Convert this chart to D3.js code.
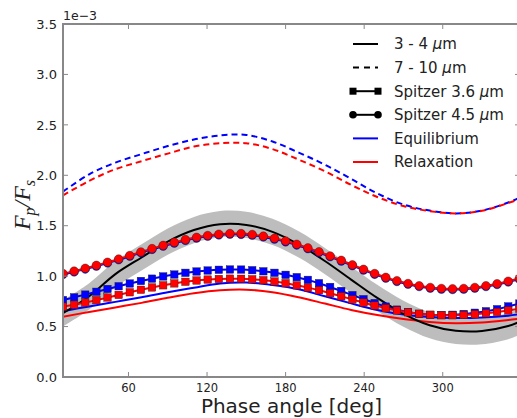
<!DOCTYPE html>
<html>
<head>
<meta charset="utf-8">
<script src="https://cdn.jsdelivr.net/npm/d3@7"></script>
<style>
body { margin: 0; background: #fff; }
text { font-family: "DejaVu Sans", sans-serif; fill: #222; }
</style>
</head>
<body>
<svg id="chart" width="517" height="418"></svg>
<script>
// phase angles (deg) for the model curves
var phase = [10, 30, 50, 70, 90, 110, 130, 150, 170, 190, 210, 230, 250, 270, 290, 310, 330, 350, 360];

// 3 - 4 um observed curve (black) and its uncertainty band, units of 1e-3
var obs34 = [0.632, 0.80, 1.02, 1.185, 1.343, 1.457, 1.515, 1.508, 1.439, 1.314, 1.15, 0.966, 0.784, 0.627, 0.513, 0.458, 0.455, 0.505, 0.555];
var obs34Err = 0.13;

// model curves, 3 - 4 um (solid) and 7 - 10 um (dashed)
var eq34  = [0.652, 0.70, 0.745, 0.79, 0.84, 0.885, 0.928, 0.937, 0.912, 0.87, 0.80, 0.73, 0.665, 0.62, 0.595, 0.585, 0.59, 0.608, 0.625];
var rel34 = [0.598, 0.645, 0.69, 0.735, 0.785, 0.83, 0.86, 0.866, 0.84, 0.79, 0.728, 0.665, 0.615, 0.575, 0.545, 0.532, 0.54, 0.565, 0.58];
var eq710  = [1.837, 2.01, 2.125, 2.21, 2.29, 2.355, 2.395, 2.40, 2.335, 2.225, 2.105, 1.965, 1.82, 1.71, 1.65, 1.622, 1.65, 1.73, 1.785];
var rel710 = [1.80, 1.945, 2.06, 2.14, 2.215, 2.285, 2.318, 2.318, 2.26, 2.155, 2.04, 1.905, 1.785, 1.695, 1.645, 1.622, 1.648, 1.725, 1.77];

// Spitzer band curves, sampled at the marker phases
var spitzerPhase = [10, 18.5, 27, 35.5, 44, 52.5, 61, 69.5, 78, 86.5, 95, 103.5, 112, 120.5, 129, 137.5, 146, 154.5, 163, 171.5, 180,
                    188.5, 197, 205.5, 214, 222.5, 231, 239.5, 248, 256.5, 265, 273.5, 282, 290.5, 299, 307.5, 316, 324.5, 333, 341.5, 350, 358.5];
var eq36  = [0.763, 0.79, 0.817, 0.845, 0.873, 0.9, 0.927, 0.952, 0.975, 0.997, 1.016, 1.033, 1.046, 1.056, 1.063, 1.066, 1.065, 1.059, 1.048, 1.033, 1.013,
             0.99, 0.963, 0.93, 0.893, 0.853, 0.812, 0.772, 0.733, 0.698, 0.668, 0.644, 0.627, 0.617, 0.614, 0.617, 0.625, 0.637, 0.652, 0.672, 0.70, 0.728];
var rel36 = [0.697, 0.716, 0.738, 0.762, 0.788, 0.814, 0.84, 0.865, 0.888, 0.909, 0.928, 0.944, 0.957, 0.966, 0.972, 0.975, 0.974, 0.969, 0.96, 0.947, 0.93,
             0.909, 0.886, 0.86, 0.831, 0.80, 0.769, 0.738, 0.708, 0.682, 0.66, 0.641, 0.627, 0.617, 0.612, 0.612, 0.615, 0.622, 0.632, 0.645, 0.66, 0.677];
var eq45  = [1.017, 1.042, 1.07, 1.099, 1.13, 1.162, 1.197, 1.232, 1.265, 1.297, 1.327, 1.354, 1.377, 1.395, 1.408, 1.415, 1.414, 1.405, 1.389, 1.367, 1.34,
             1.308, 1.272, 1.234, 1.192, 1.149, 1.104, 1.06, 1.018, 0.98, 0.947, 0.919, 0.897, 0.88, 0.87, 0.867, 0.87, 0.88, 0.897, 0.917, 0.942, 0.97];
var rel45 = [1.025, 1.05, 1.078, 1.107, 1.138, 1.17, 1.205, 1.24, 1.273, 1.305, 1.335, 1.362, 1.385, 1.403, 1.416, 1.423, 1.422, 1.413, 1.397, 1.375, 1.348,
             1.316, 1.28, 1.242, 1.2, 1.157, 1.112, 1.068, 1.026, 0.988, 0.955, 0.927, 0.905, 0.888, 0.878, 0.875, 0.878, 0.888, 0.905, 0.925, 0.95, 0.978];

var xTicks = [60, 120, 180, 240, 300];
var yTicks = [0, 0.5, 1.0, 1.5, 2.0, 2.5, 3.0, 3.5];

var legendItems = [
  {label: "3 - 4 ", color: "black", dash: null, marker: null},
  {label: "7 - 10 ", color: "black", dash: "6,5", marker: null},
  {label: "Spitzer 3.6 ", color: "black", dash: null, marker: "square"},
  {label: "Spitzer 4.5 ", color: "black", dash: null, marker: "circle"},
  {label: "Equilibrium", color: "blue", dash: null, marker: null},
  {label: "Relaxation", color: "red", dash: null, marker: null}
];

var svg = d3.select("#chart");
var pLeft = 63, pRight = 520, pTop = 24, pBottom = 377;

var x = d3.scaleLinear().domain([10, 359]).range([pLeft, pRight]);
var y = d3.scaleLinear().domain([0, 3.5]).range([pBottom, pTop]);

svg.append("defs").append("clipPath")
    .attr("id", "plotclip")
  .append("rect")
    .attr("x", pLeft).attr("y", pTop)
    .attr("width", pRight - pLeft).attr("height", pBottom - pTop);

var plot = svg.append("g").attr("clip-path", "url(#plotclip)");

var line = d3.line()
             .x(d => x(d[0]))
             .y(d => y(d[1]))
             .curve(d3.curveCatmullRom);

// gray band round the observed curve
var band = d3.area()
             .x(d => x(d[0]))
             .y0(d => y(d[1] - obs34Err))
             .y1(d => y(d[1] + obs34Err))
             .curve(d3.curveCatmullRom);

plot.append("path")
    .attr("d", band(d3.zip(phase, obs34)))
    .attr("fill", "#bdbdbd")
    .attr("stroke", "none");

function drawCurve(xs, ys, color, dash) {
  plot.append("path")
      .attr("d", line(d3.zip(xs, ys)))
      .attr("fill", "none")
      .attr("stroke", color)
      .attr("stroke-width", 2)
      .attr("stroke-dasharray", dash);
}

drawCurve(phase, eq710, "blue", "6,4");
drawCurve(phase, rel710, "red", "6,4");
drawCurve(phase, eq34, "blue", null);
drawCurve(phase, rel34, "red", null);
drawCurve(phase, obs34, "black", null);

function drawSpitzer(ys, color, marker) {
  var pts = d3.zip(spitzerPhase, ys);
  drawCurve(spitzerPhase, ys, color, null);
  var g = plot.append("g");
  if (marker === "square") {
    g.selectAll("rect")
     .data(pts)
     .enter()
       .append("rect")
       .attr("x", d => x(d[0]) - 3.75)
       .attr("y", d => y(d[1]) - 3.75)
       .attr("width", 7.5)
       .attr("height", 7.5)
       .attr("fill", color)
       .attr("stroke", "#222")
       .attr("stroke-width", 0.4);
  } else {
    g.selectAll("circle")
     .data(pts)
     .enter()
       .append("circle")
       .attr("cx", d => x(d[0]))
       .attr("cy", d => y(d[1]))
       .attr("r", 4.3)
       .attr("fill", color)
       .attr("stroke", "#222")
       .attr("stroke-width", 0.4);
  }
}

drawSpitzer(eq36, "blue", "square");
drawSpitzer(rel36, "red", "square");
drawSpitzer(eq45, "blue", "circle");
drawSpitzer(rel45, "red", "circle");

// frame and inward ticks on all sides
var axisColor = "#888";
svg.append("rect")
    .attr("x", pLeft).attr("y", pTop)
    .attr("width", pRight - pLeft).attr("height", pBottom - pTop)
    .attr("fill", "none")
    .attr("stroke", axisColor)
    .attr("stroke-width", 2);

var ticks = svg.append("g").attr("stroke", axisColor).attr("stroke-width", 1);
xTicks.forEach(function(t) {
  ticks.append("line").attr("x1", x(t)).attr("x2", x(t)).attr("y1", pBottom).attr("y2", pBottom - 5);
  ticks.append("line").attr("x1", x(t)).attr("x2", x(t)).attr("y1", pTop).attr("y2", pTop + 5);
});
yTicks.forEach(function(t) {
  ticks.append("line").attr("x1", pLeft).attr("x2", pLeft + 5).attr("y1", y(t)).attr("y2", y(t));
  ticks.append("line").attr("x1", pRight).attr("x2", pRight - 5).attr("y1", y(t)).attr("y2", y(t));
});

svg.append("g")
   .selectAll("text")
   .data(xTicks)
   .enter()
     .append("text")
     .attr("x", d => x(d))
     .attr("y", 392)
     .attr("font-size", "11.5px")
     .style("text-anchor", "middle")
     .text(d => d);

svg.append("g")
   .selectAll("text")
   .data(yTicks)
   .enter()
     .append("text")
     .attr("x", 57)
     .attr("y", d => y(d))
     .attr("dy", "0.36em")
     .attr("font-size", "13px")
     .style("text-anchor", "end")
     .text(d => d.toFixed(1));

svg.append("text")
   .attr("x", pLeft)
   .attr("y", 20)
   .attr("font-size", "12.5px")
   .text("1e\u22123");

svg.append("text")
   .attr("x", (pLeft + pRight) / 2)
   .attr("y", 413)
   .attr("font-size", "20px")
   .style("text-anchor", "middle")
   .text("Phase angle [deg]");

// y label F_p / F_s
var ylab = svg.append("text")
   .attr("transform", "translate(30, 205) rotate(-90)")
   .attr("font-size", "24px")
   .style("font-family", "'Liberation Serif', serif")
   .style("font-style", "italic")
   .style("text-anchor", "middle");
ylab.append("tspan").text("F");
ylab.append("tspan").attr("font-size", "16px").attr("dy", 5).text("p");
ylab.append("tspan").attr("dy", -5).text("/F");
ylab.append("tspan").attr("font-size", "16px").attr("dy", 5).text("s");

// legend
var legend = svg.append("g");
legendItems.forEach(function(item, i) {
  var ly = 44 + i * 23.6;
  legend.append("line")
        .attr("x1", 353).attr("x2", 378)
        .attr("y1", ly).attr("y2", ly)
        .attr("stroke", item.color)
        .attr("stroke-width", 2)
        .attr("stroke-dasharray", item.dash);
  [353, 378].forEach(function(mx) {
    if (item.marker === "square") {
      legend.append("rect")
            .attr("x", mx - 3.5).attr("y", ly - 3.5)
            .attr("width", 7).attr("height", 7)
            .attr("fill", "black");
    } else if (item.marker === "circle") {
      legend.append("circle")
            .attr("cx", mx).attr("cy", ly).attr("r", 3.8)
            .attr("fill", "black");
    }
  });
  var t = legend.append("text")
        .attr("x", 394)
        .attr("y", ly)
        .attr("dy", "0.36em")
        .attr("font-size", "15px")
        .text(item.label);
  if (item.label.indexOf("Spitzer") === 0 || item.label.indexOf(" - ") > 0) {
    t.append("tspan").style("font-style", "italic").text("\u03bc");
    t.append("tspan").text("m");
  }
});
</script>
</body>
</html>
